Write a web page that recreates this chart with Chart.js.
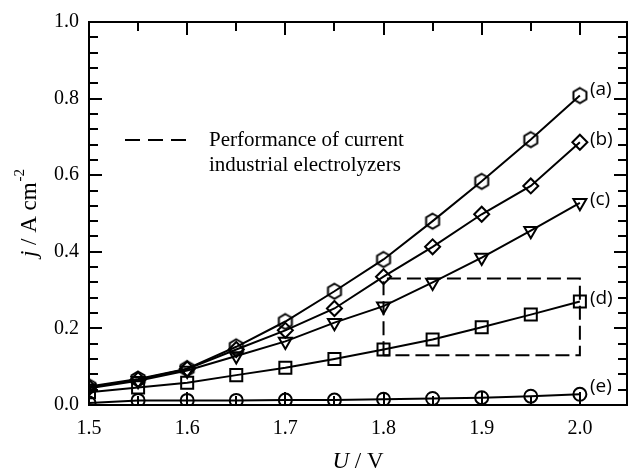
<!DOCTYPE html>
<html>
<head>
<meta charset="utf-8">
<script src="https://cdn.jsdelivr.net/npm/chart.js@4.4.1/dist/chart.umd.min.js"></script>
<style>
  html, body { margin: 0; padding: 0; background: #fff; overflow: hidden; }
  canvas { display: block; }
</style>
</head>
<body>
<canvas id="chart" width="630" height="476"></canvas>
<script>
// cell voltage (V) and current density (A cm-2) for the five cells
const voltage = [1.5, 1.55, 1.6, 1.65, 1.7, 1.75, 1.8, 1.85, 1.9, 1.95, 2.0];
const curveA = [0.048, 0.068, 0.095, 0.152, 0.218, 0.297, 0.380, 0.480, 0.584, 0.693, 0.808];
const curveB = [0.046, 0.066, 0.094, 0.145, 0.195, 0.252, 0.335, 0.413, 0.498, 0.572, 0.686];
const curveC = [0.044, 0.063, 0.090, 0.128, 0.166, 0.215, 0.258, 0.320, 0.385, 0.455, 0.528];
const curveD = [0.033, 0.046, 0.058, 0.078, 0.097, 0.120, 0.145, 0.171, 0.203, 0.236, 0.270];
const curveE = [0.005, 0.012, 0.012, 0.012, 0.013, 0.013, 0.015, 0.017, 0.019, 0.023, 0.028];
const curveNames = ['(a)', '(b)', '(c)', '(d)', '(e)'];

// operating window of current industrial electrolyzers
const boxU = [1.8, 1.8, 2.0, 2.0, 1.8];
const boxJ = [0.13, 0.33, 0.33, 0.13, 0.13];

const xTicks = [1.5, 1.6, 1.7, 1.8, 1.9, 2.0];
const yTicks = [0.0, 0.2, 0.4, 0.6, 0.8, 1.0];

const SERIF = '"Liberation Serif", "Times New Roman", serif';
const SANS = '"Open Sans", "Noto Sans", sans-serif';

function hexagonMark() {
    const c = document.createElement('canvas');
    c.width = 20; c.height = 20;
    const g = c.getContext('2d');
    g.strokeStyle = '#000';
    g.lineWidth = 2;
    g.beginPath();
    for (let k = 0; k < 6; k++) {
        const a = -Math.PI / 2 + k * Math.PI / 3;
        const px = 10 + 7.5 * Math.cos(a), py = 10 + 7.5 * Math.sin(a);
        if (k === 0) g.moveTo(px, py); else g.lineTo(px, py);
    }
    g.closePath();
    g.stroke();
    return c;
}

function toPoints(xs, ys) {
    return xs.map((x, i) => ({ x: x, y: ys[i] }));
}

function curve(values, style, radius, rotation) {
    return {
        data: toPoints(voltage, values),
        borderColor: '#000',
        borderWidth: 2,
        pointStyle: style,
        pointRadius: radius,
        pointHoverRadius: radius,
        pointRotation: rotation || 0,
        pointBorderColor: '#000',
        pointBorderWidth: 2,
        pointBackgroundColor: 'rgba(0,0,0,0)',
        tension: 0
    };
}

// frame with inward ticks on all four sides, x labels, curve names and axis titles
const framePlugin = {
    id: 'frame',
    afterDatasetsDraw(chart) {
        const ctx = chart.ctx;
        const area = chart.chartArea;
        const xs = chart.scales.x, ys = chart.scales.y;
        ctx.save();
        ctx.strokeStyle = '#000';
        ctx.lineWidth = 2;
        ctx.strokeRect(area.left, area.top, area.right - area.left, area.bottom - area.top);

        ctx.beginPath();
        for (let i = 0; i <= 10; i++) {
            const px = Math.round(xs.getPixelForValue(1.5 + i * 0.05));
            const len = i % 2 === 0 ? 13 : 9;
            ctx.moveTo(px, area.bottom); ctx.lineTo(px, area.bottom - len);
            ctx.moveTo(px, area.top); ctx.lineTo(px, area.top + len);
        }
        for (let i = 1; i < 25; i++) {
            const py = Math.round(ys.getPixelForValue(i * 0.04));
            const len = i % 5 === 0 ? 13 : 9;
            ctx.moveTo(area.left, py); ctx.lineTo(area.left + len, py);
            ctx.moveTo(area.right, py); ctx.lineTo(area.right - len, py);
        }
        ctx.stroke();

        ctx.fillStyle = '#000';
        ctx.textBaseline = 'middle';

        // x tick labels
        ctx.font = '20px ' + SERIF;
        ctx.textAlign = 'center';
        xTicks.forEach(v => {
            ctx.fillText(v.toFixed(1), xs.getPixelForValue(v), area.bottom + 24);
        });

        // curve names beside the last point of each curve
        const nudge = [-6, -3, -3, -3, -8];
        ctx.font = '19px ' + SANS;
        ctx.textAlign = 'left';
        curveNames.forEach((name, i) => {
            const pt = chart.getDatasetMeta(i).data[voltage.length - 1];
            ctx.fillText(name, pt.x + 10, pt.y + nudge[i]);
        });

        // legend for the dashed window
        const lx = area.left + 36, ly = area.top + 118;
        ctx.setLineDash([15, 8]);
        ctx.beginPath();
        ctx.moveTo(lx, ly); ctx.lineTo(lx + 61, ly);
        ctx.stroke();
        ctx.setLineDash([]);
        ctx.font = '21px ' + SERIF;
        ctx.fillText('Performance of current', lx + 84, ly);
        ctx.fillText('industrial electrolyzers', lx + 84, ly + 25);

        // x title: U / V
        const cx = (area.left + area.right) / 2;
        ctx.font = 'italic 23px ' + SERIF;
        const wU = ctx.measureText('U').width;
        ctx.font = '23px ' + SERIF;
        const wRest = ctx.measureText(' / V').width;
        let tx = cx - (wU + wRest) / 2;
        ctx.font = 'italic 23px ' + SERIF;
        ctx.fillText('U', tx, 462);
        ctx.font = '23px ' + SERIF;
        ctx.fillText(' / V', tx + wU, 462);

        // y title: j / A cm-2, rotated
        ctx.translate(30, (area.top + area.bottom) / 2);
        ctx.rotate(-Math.PI / 2);
        ctx.font = 'italic 23px ' + SERIF;
        const wj = ctx.measureText('j').width;
        ctx.font = '23px ' + SERIF;
        const wMid = ctx.measureText(' / A cm').width;
        ctx.font = '15px ' + SERIF;
        const wSup = ctx.measureText('-2').width;
        tx = -(wj + wMid + wSup) / 2;
        ctx.font = 'italic 23px ' + SERIF;
        ctx.fillText('j', tx, 0);
        ctx.font = '23px ' + SERIF;
        ctx.fillText(' / A cm', tx + wj, 0);
        ctx.font = '15px ' + SERIF;
        ctx.fillText('-2', tx + wj + wMid + 1, -10);
        ctx.restore();
    }
};

new Chart(document.getElementById('chart'), {
    type: 'line',
    data: {
        datasets: [
            curve(curveA, hexagonMark(), 7.5),
            curve(curveB, 'rectRot', 7.5),
            curve(curveC, 'triangle', 7.5, 180),
            curve(curveD, 'rect', 8.5),
            curve(curveE, 'circle', 6.5),
            {
                data: toPoints(boxU, boxJ),
                borderColor: '#000',
                borderWidth: 2,
                borderDash: [14, 6],
                pointRadius: 0,
                tension: 0
            }
        ]
    },
    options: {
        responsive: false,
        animation: false,
        layout: { autoPadding: false, padding: { top: 20, right: 3, left: 0, bottom: 0 } },
        plugins: {
            legend: { display: false },
            tooltip: { enabled: false }
        },
        scales: {
            x: {
                type: 'linear',
                min: 1.5,
                max: 2.048,
                afterBuildTicks: scale => { scale.ticks = xTicks.map(v => ({ value: v })); },
                afterFit: scale => { scale.height = 71; },
                grid: { display: false, drawTicks: false },
                border: { display: false },
                ticks: { display: false }
            },
            y: {
                type: 'linear',
                min: 0,
                max: 1.0,
                afterBuildTicks: scale => { scale.ticks = yTicks.map(v => ({ value: v })); },
                afterFit: scale => { scale.width = 89; },
                grid: { display: false, drawTicks: false },
                border: { display: false },
                ticks: {
                    color: '#000',
                    padding: 10,
                    font: { family: SERIF, size: 20 },
                    callback: v => v.toFixed(1)
                }
            }
        }
    },
    plugins: [framePlugin]
});
</script>
</body>
</html>
